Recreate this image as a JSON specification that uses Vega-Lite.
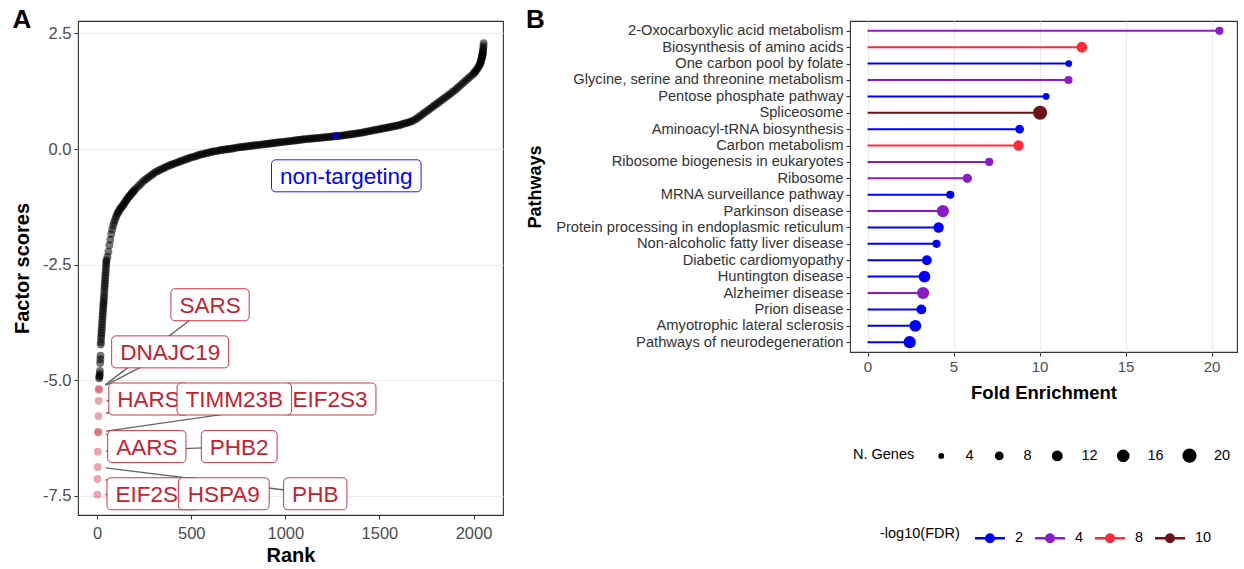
{
  "$schema": "https://vega.github.io/schema/vega-lite/v6.json",
  "background": "white",
  "padding": {"left": 12, "top": 6, "right": 0, "bottom": 0},
  "spacing": 21,
  "resolve": {"legend": {"size": "independent", "color": "independent"}},
  "config": {
    "font": "Liberation Sans",
    "view": {"stroke": "#333333", "strokeWidth": 1.1},
    "axis": {
      "labelFont": "Liberation Sans",
      "titleFont": "Liberation Sans",
      "labelColor": "#4D4D4D",
      "tickColor": "#333333",
      "tickSize": 4,
      "tickWidth": 1.1,
      "domain": false,
      "grid": false,
      "titleColor": "#000000",
      "titleFontWeight": "bold",
      "labelPadding": 3,
      "gridColor": "#EBEBEB",
      "gridWidth": 1.2
    },
    "legend": {"labelFont": "Liberation Sans", "titleFont": "Liberation Sans"},
    "title": {"font": "Liberation Sans"}
  },
  "datasets": {
    "curve": [
      {"rank":11,"score":-4.96},{"rank":12,"score":-4.93},{"rank":13,"score":-4.90},{"rank":14,"score":-4.87},
      {"rank":15,"score":-4.80},{"rank":16,"score":-4.63},{"rank":17,"score":-4.55},{"rank":18,"score":-4.47},
      {"rank":19,"score":-4.23},{"rank":20,"score":-4.18},{"rank":21,"score":-4.10},{"rank":22,"score":-4.04},
      {"rank":23,"score":-3.98},{"rank":24,"score":-3.92},{"rank":25,"score":-3.86},{"rank":26,"score":-3.80},
      {"rank":27,"score":-3.74},{"rank":28,"score":-3.68},{"rank":29,"score":-3.62},{"rank":30,"score":-3.56},
      {"rank":31,"score":-3.50},{"rank":32,"score":-3.44},{"rank":33,"score":-3.39},{"rank":34,"score":-3.34},
      {"rank":35,"score":-3.29},{"rank":36,"score":-3.23},{"rank":37,"score":-3.17},{"rank":38,"score":-3.10},
      {"rank":39,"score":-3.03},{"rank":40,"score":-2.97},{"rank":41,"score":-2.91},{"rank":42,"score":-2.85},
      {"rank":43,"score":-2.79},{"rank":44,"score":-2.73},{"rank":45,"score":-2.67},{"rank":46,"score":-2.61},
      {"rank":47,"score":-2.55},{"rank":48,"score":-2.49},{"rank":49,"score":-2.44},
      {"rank":50,"score":-2.40},{"rank":55,"score":-2.33},{"rank":60,"score":-2.22},{"rank":65,"score":-2.08},
      {"rank":70,"score":-1.96},{"rank":75,"score":-1.84},{"rank":80,"score":-1.74},{"rank":85,"score":-1.66},
      {"rank":90,"score":-1.59},{"rank":95,"score":-1.53},{"rank":100,"score":-1.47},{"rank":105,"score":-1.42},
      {"rank":110,"score":-1.38},{"rank":115,"score":-1.35},{"rank":120,"score":-1.31},{"rank":125,"score":-1.28},
      {"rank":130,"score":-1.26},{"rank":135,"score":-1.23},{"rank":140,"score":-1.20},{"rank":145,"score":-1.17},
      {"rank":150,"score":-1.14},{"rank":155,"score":-1.11},{"rank":160,"score":-1.08},{"rank":165,"score":-1.05},
      {"rank":170,"score":-1.03},{"rank":175,"score":-1.00},{"rank":180,"score":-0.98},{"rank":185,"score":-0.95},
      {"rank":190,"score":-0.93},{"rank":195,"score":-0.91},{"rank":200,"score":-0.88},{"rank":210,"score":-0.84},
      {"rank":220,"score":-0.80},{"rank":230,"score":-0.76},{"rank":240,"score":-0.72},{"rank":250,"score":-0.68},
      {"rank":260,"score":-0.65},{"rank":270,"score":-0.62},{"rank":280,"score":-0.59},{"rank":290,"score":-0.56},
      {"rank":300,"score":-0.53},{"rank":310,"score":-0.50},{"rank":320,"score":-0.48},{"rank":330,"score":-0.46},
      {"rank":340,"score":-0.44},{"rank":350,"score":-0.42},{"rank":360,"score":-0.40},{"rank":370,"score":-0.38},
      {"rank":380,"score":-0.36},{"rank":390,"score":-0.345},{"rank":400,"score":-0.33},{"rank":410,"score":-0.315},
      {"rank":420,"score":-0.30},{"rank":430,"score":-0.285},{"rank":440,"score":-0.27},{"rank":450,"score":-0.255},
      {"rank":460,"score":-0.24},{"rank":470,"score":-0.225},{"rank":480,"score":-0.21},{"rank":490,"score":-0.195},
      {"rank":500,"score":-0.18},{"rank":510,"score":-0.17},{"rank":520,"score":-0.16},{"rank":530,"score":-0.145},
      {"rank":540,"score":-0.13},{"rank":550,"score":-0.12},{"rank":560,"score":-0.11},{"rank":570,"score":-0.10},
      {"rank":580,"score":-0.09},{"rank":590,"score":-0.08},{"rank":600,"score":-0.07},{"rank":610,"score":-0.06},
      {"rank":620,"score":-0.05},{"rank":630,"score":-0.045},{"rank":640,"score":-0.04},{"rank":650,"score":-0.03},
      {"rank":660,"score":-0.02},{"rank":670,"score":-0.015},{"rank":680,"score":-0.01},{"rank":690,"score":-0.005},
      {"rank":700,"score":0.0},{"rank":710,"score":0.005},{"rank":720,"score":0.01},{"rank":730,"score":0.02},
      {"rank":740,"score":0.03},{"rank":750,"score":0.035},{"rank":760,"score":0.04},{"rank":770,"score":0.045},
      {"rank":780,"score":0.05},{"rank":790,"score":0.055},{"rank":800,"score":0.06},{"rank":810,"score":0.065},
      {"rank":820,"score":0.07},{"rank":830,"score":0.075},{"rank":840,"score":0.08},{"rank":850,"score":0.085},
      {"rank":860,"score":0.09},{"rank":870,"score":0.095},{"rank":880,"score":0.10},{"rank":890,"score":0.105},
      {"rank":900,"score":0.11},{"rank":910,"score":0.115},{"rank":920,"score":0.12},{"rank":930,"score":0.125},
      {"rank":940,"score":0.13},{"rank":950,"score":0.135},{"rank":960,"score":0.14},{"rank":970,"score":0.145},
      {"rank":980,"score":0.15},{"rank":990,"score":0.155},{"rank":1000,"score":0.16},{"rank":1010,"score":0.165},
      {"rank":1020,"score":0.17},{"rank":1030,"score":0.175},{"rank":1040,"score":0.18},{"rank":1050,"score":0.185},
      {"rank":1060,"score":0.19},{"rank":1070,"score":0.195},{"rank":1080,"score":0.20},{"rank":1090,"score":0.205},
      {"rank":1100,"score":0.21},{"rank":1110,"score":0.214},{"rank":1120,"score":0.218},{"rank":1130,"score":0.222},
      {"rank":1140,"score":0.226},{"rank":1150,"score":0.23},{"rank":1160,"score":0.234},{"rank":1170,"score":0.238},
      {"rank":1180,"score":0.242},{"rank":1190,"score":0.246},{"rank":1200,"score":0.25},{"rank":1210,"score":0.254},
      {"rank":1220,"score":0.258},{"rank":1230,"score":0.262},{"rank":1240,"score":0.266},{"rank":1250,"score":0.27},
      {"rank":1260,"score":0.274},{"rank":1270,"score":0.278},{"rank":1280,"score":0.282},{"rank":1290,"score":0.286},
      {"rank":1300,"score":0.29},{"rank":1310,"score":0.296},{"rank":1320,"score":0.302},{"rank":1330,"score":0.308},
      {"rank":1340,"score":0.314},{"rank":1350,"score":0.32},{"rank":1360,"score":0.326},{"rank":1370,"score":0.332},
      {"rank":1380,"score":0.338},{"rank":1390,"score":0.344},{"rank":1400,"score":0.35},{"rank":1410,"score":0.358},
      {"rank":1420,"score":0.366},{"rank":1430,"score":0.374},{"rank":1440,"score":0.382},{"rank":1450,"score":0.39},
      {"rank":1460,"score":0.398},{"rank":1470,"score":0.406},{"rank":1480,"score":0.414},{"rank":1490,"score":0.422},
      {"rank":1500,"score":0.43},{"rank":1510,"score":0.438},{"rank":1520,"score":0.446},{"rank":1530,"score":0.454},
      {"rank":1540,"score":0.462},{"rank":1550,"score":0.47},{"rank":1560,"score":0.478},{"rank":1570,"score":0.486},
      {"rank":1580,"score":0.494},{"rank":1590,"score":0.502},{"rank":1600,"score":0.51},{"rank":1610,"score":0.522},
      {"rank":1620,"score":0.535},{"rank":1630,"score":0.548},{"rank":1640,"score":0.56},{"rank":1650,"score":0.572},
      {"rank":1660,"score":0.585},{"rank":1670,"score":0.598},{"rank":1680,"score":0.615},{"rank":1690,"score":0.64},
      {"rank":1700,"score":0.665},{"rank":1710,"score":0.695},{"rank":1720,"score":0.725},{"rank":1730,"score":0.755},
      {"rank":1740,"score":0.785},{"rank":1750,"score":0.815},{"rank":1760,"score":0.845},{"rank":1770,"score":0.875},
      {"rank":1780,"score":0.905},{"rank":1790,"score":0.935},{"rank":1800,"score":0.965},{"rank":1810,"score":0.995},
      {"rank":1820,"score":1.025},{"rank":1830,"score":1.055},{"rank":1840,"score":1.085},{"rank":1850,"score":1.115},
      {"rank":1860,"score":1.145},{"rank":1870,"score":1.175},{"rank":1880,"score":1.205},{"rank":1890,"score":1.238},
      {"rank":1900,"score":1.27},{"rank":1910,"score":1.306},{"rank":1920,"score":1.342},{"rank":1930,"score":1.378},
      {"rank":1940,"score":1.414},{"rank":1950,"score":1.45},{"rank":1960,"score":1.486},{"rank":1970,"score":1.522},
      {"rank":1980,"score":1.558},{"rank":1990,"score":1.594},{"rank":2000,"score":1.63},{"rank":2005,"score":1.655},
      {"rank":2010,"score":1.68},{"rank":2015,"score":1.707},{"rank":2020,"score":1.735},{"rank":2025,"score":1.767},
      {"rank":2030,"score":1.80},{"rank":2033,"score":1.827},{"rank":2036,"score":1.855},{"rank":2038,"score":1.882},
      {"rank":2040,"score":1.91},{"rank":2042,"score":1.94},{"rank":2043,"score":1.96},{"rank":2045,"score":1.99},
      {"rank":2046,"score":2.01},{"rank":2047,"score":2.03},{"rank":2048,"score":2.05},{"rank":2049,"score":2.075},
      {"rank":2050,"score":2.10},{"rank":2051,"score":2.14},{"rank":2052,"score":2.18},{"rank":2053,"score":2.23},
      {"rank":2054,"score":2.29}
    ],
    "hits": [
      {"gene":"EIF2S1","rank":1,"score":-7.48,"lx":297,"ly":-7.46},
      {"gene":"HSPA9","rank":2,"score":-7.14,"lx":673,"ly":-7.46},
      {"gene":"PHB","rank":3,"score":-6.88,"lx":1159,"ly":-7.46},
      {"gene":"PHB2","rank":4,"score":-6.55,"lx":755,"ly":-6.44},
      {"gene":"EIF2S3","rank":5,"score":-6.13,"lx":1237,"ly":-5.41},
      {"gene":"AARS","rank":6,"score":-6.12,"lx":264,"ly":-6.44},
      {"gene":"HARS","rank":7,"score":-5.78,"lx":273,"ly":-5.41},
      {"gene":"TIMM23B","rank":8,"score":-5.45,"lx":729,"ly":-5.41},
      {"gene":"SARS","rank":9,"score":-5.21,"lx":600,"ly":-3.37},
      {"gene":"DNAJC19","rank":10,"score":-5.19,"lx":388,"ly":-4.39}
    ],
    "control": [
      {"gene":"non-targeting","rank":1268,"score":0.284,"lx":1324,"ly":-0.58}
    ],
    "pathways": [
      {"pathway":"2-Oxocarboxylic acid metabolism","fold":20.46,"genes":7,"fdr":4},
      {"pathway":"Biosynthesis of amino acids","fold":12.46,"genes":12,"fdr":8},
      {"pathway":"One carbon pool by folate","fold":11.70,"genes":5,"fdr":2},
      {"pathway":"Glycine, serine and threonine metabolism","fold":11.68,"genes":7,"fdr":4},
      {"pathway":"Pentose phosphate pathway","fold":10.38,"genes":5,"fdr":2},
      {"pathway":"Spliceosome","fold":10.03,"genes":20,"fdr":10},
      {"pathway":"Aminoacyl-tRNA biosynthesis","fold":8.84,"genes":8,"fdr":2},
      {"pathway":"Carbon metabolism","fold":8.78,"genes":11,"fdr":8},
      {"pathway":"Ribosome biogenesis in eukaryotes","fold":7.07,"genes":7,"fdr":4},
      {"pathway":"Ribosome","fold":5.80,"genes":9,"fdr":4},
      {"pathway":"MRNA surveillance pathway","fold":4.81,"genes":7,"fdr":2},
      {"pathway":"Parkinson disease","fold":4.38,"genes":15,"fdr":4},
      {"pathway":"Protein processing in endoplasmic reticulum","fold":4.13,"genes":11,"fdr":2},
      {"pathway":"Non-alcoholic fatty liver disease","fold":4.01,"genes":7,"fdr":2},
      {"pathway":"Diabetic cardiomyopathy","fold":3.45,"genes":10,"fdr":2},
      {"pathway":"Huntington disease","fold":3.31,"genes":14,"fdr":2},
      {"pathway":"Alzheimer disease","fold":3.23,"genes":15,"fdr":4},
      {"pathway":"Prion disease","fold":3.13,"genes":10,"fdr":2},
      {"pathway":"Amyotrophic lateral sclerosis","fold":2.78,"genes":14,"fdr":2},
      {"pathway":"Pathways of neurodegeneration","fold":2.45,"genes":15,"fdr":2}
    ]
  },
  "hconcat": [
    {
      "width": 425,
      "height": 494,
      "title": {"text": "A", "anchor": "start", "frame": "bounds", "fontSize": 26, "fontWeight": "bold", "color": "#000000", "offset": -25, "baseline": "alphabetic", "dy": 8},
      "layer": [
        {
          "data": {"name": "curve"},
          "mark": {"type": "circle", "size": 62, "color": "#000000", "opacity": 0.55},
          "encoding": {
            "x": {"field": "rank", "type": "quantitative", "title": "Rank",
              "scale": {"domain": [-101.7, 2156.7], "nice": false, "zero": false},
              "axis": {"values": [0, 500, 1000, 1500, 2000], "format": "d", "titleFontSize": 20, "labelFontSize": 16.5, "labelPadding": 6, "titlePadding": 4, "labelFlush": false}},
            "y": {"field": "score", "type": "quantitative", "title": "Factor scores",
              "scale": {"domain": [-7.92, 2.77], "nice": false, "zero": false},
              "axis": {"values": [-7.5, -5, -2.5, 0, 2.5], "labelExpr": "replace(format(datum.value, '.1f'), '−', '-')", "grid": true, "titleFontSize": 20, "labelFontSize": 16.5, "titlePadding": 10, "labelFlush": false}}
          }
        },
        {
          "data": {"name": "hits"},
          "transform": [
            {"calculate": "length(datum.gene)", "as": "n"},
            {"calculate": "0.667*datum.n + 0.055*(datum.n - length(replace(datum.gene, regexp('[CDHNR]','g'), ''))) + 0.166*(datum.n - length(replace(datum.gene, regexp('M','g'), ''))) - 0.111*(datum.n - length(replace(datum.gene, regexp('[0-9]','g'), ''))) - 0.056*(datum.n - length(replace(datum.gene, regexp('[FT]','g'), ''))) - 0.389*(datum.n - length(replace(datum.gene, regexp('I','g'), ''))) - 0.167*(datum.n - length(replace(datum.gene, regexp('J','g'), '')))", "as": "em"},
            {"calculate": "(datum.em*22.5 + 17)/2/0.18819", "as": "hw"},
            {"calculate": "datum.lx - datum.hw", "as": "bx0"},
            {"calculate": "datum.lx + datum.hw", "as": "bx1"},
            {"calculate": "datum.ly - 0.3462", "as": "by0"},
            {"calculate": "datum.ly + 0.3462", "as": "by1"},
            {"calculate": "sqrt(pow((datum.lx - datum.rank)*0.18819, 2) + pow((datum.ly - datum.score)*46.21, 2))", "as": "len"},
            {"calculate": "datum.rank + (datum.lx - datum.rank)*8/datum.len", "as": "sx"},
            {"calculate": "datum.score + (datum.ly - datum.score)*8/datum.len", "as": "sy"}
          ],
          "layer": [
            {
              "mark": {"type": "rule", "color": "#666666", "strokeWidth": 1.4},
              "encoding": {
                "x": {"field": "sx", "type": "quantitative", "title": "Rank", "scale": {"domain": [-101.7, 2156.7], "nice": false, "zero": false}},
                "y": {"field": "sy", "type": "quantitative", "title": "Factor scores", "scale": {"domain": [-7.92, 2.77], "nice": false, "zero": false}},
                "x2": {"field": "lx"},
                "y2": {"field": "ly"}
              }
            },
            {
              "mark": {"type": "circle", "size": 62, "color": "#D42A3C", "opacity": 0.42},
              "encoding": {
                "x": {"field": "rank", "type": "quantitative", "title": "Rank", "scale": {"domain": [-101.7, 2156.7], "nice": false, "zero": false}},
                "y": {"field": "score", "type": "quantitative", "title": "Factor scores", "scale": {"domain": [-7.92, 2.77], "nice": false, "zero": false}}
              }
            },
            {
              "transform": [{"filter": "datum.gene != 'TIMM23B' && datum.gene != 'HSPA9'"}],
              "layer": [
                {
                  "mark": {"type": "rect", "fill": "white", "stroke": "#C8202F", "strokeWidth": 0.9, "cornerRadius": 4},
                  "encoding": {
                    "x": {"field": "bx0", "type": "quantitative", "title": "Rank", "scale": {"domain": [-101.7, 2156.7], "nice": false, "zero": false}},
                    "x2": {"field": "bx1"},
                    "y": {"field": "by0", "type": "quantitative", "title": "Factor scores", "scale": {"domain": [-7.92, 2.77], "nice": false, "zero": false}},
                    "y2": {"field": "by1"}
                  }
                },
                {
                  "mark": {"type": "text", "color": "#C8202F", "fontSize": 22.5, "baseline": "middle", "align": "center", "dy": 1},
                  "encoding": {
                    "x": {"field": "lx", "type": "quantitative", "title": "Rank", "scale": {"domain": [-101.7, 2156.7], "nice": false, "zero": false}},
                    "y": {"field": "ly", "type": "quantitative", "title": "Factor scores", "scale": {"domain": [-7.92, 2.77], "nice": false, "zero": false}},
                    "text": {"field": "gene"}
                  }
                }
              ]
            },
            {
              "transform": [{"filter": "datum.gene == 'TIMM23B' || datum.gene == 'HSPA9'"}],
              "layer": [
                {
                  "mark": {"type": "rect", "fill": "white", "stroke": "#C8202F", "strokeWidth": 0.9, "cornerRadius": 4},
                  "encoding": {
                    "x": {"field": "bx0", "type": "quantitative", "title": "Rank", "scale": {"domain": [-101.7, 2156.7], "nice": false, "zero": false}},
                    "x2": {"field": "bx1"},
                    "y": {"field": "by0", "type": "quantitative", "title": "Factor scores", "scale": {"domain": [-7.92, 2.77], "nice": false, "zero": false}},
                    "y2": {"field": "by1"}
                  }
                },
                {
                  "mark": {"type": "text", "color": "#C8202F", "fontSize": 22.5, "baseline": "middle", "align": "center", "dy": 1},
                  "encoding": {
                    "x": {"field": "lx", "type": "quantitative", "title": "Rank", "scale": {"domain": [-101.7, 2156.7], "nice": false, "zero": false}},
                    "y": {"field": "ly", "type": "quantitative", "title": "Factor scores", "scale": {"domain": [-7.92, 2.77], "nice": false, "zero": false}},
                    "text": {"field": "gene"}
                  }
                }
              ]
            }
          ]
        },
        {
          "data": {"name": "control"},
          "transform": [
            {"calculate": "(5.892*22.5 + 17)/2/0.18819", "as": "hw"},
            {"calculate": "datum.lx - datum.hw", "as": "bx0"},
            {"calculate": "datum.lx + datum.hw", "as": "bx1"},
            {"calculate": "datum.ly - 0.3462", "as": "by0"},
            {"calculate": "datum.ly + 0.3462", "as": "by1"}
          ],
          "layer": [
            {
              "mark": {"type": "circle", "size": 62, "color": "#0000FF", "opacity": 0.6},
              "encoding": {
                "x": {"field": "rank", "type": "quantitative", "title": "Rank", "scale": {"domain": [-101.7, 2156.7], "nice": false, "zero": false}},
                "y": {"field": "score", "type": "quantitative", "title": "Factor scores", "scale": {"domain": [-7.92, 2.77], "nice": false, "zero": false}}
              }
            },
            {
              "mark": {"type": "rect", "fill": "white", "stroke": "#0000FF", "strokeWidth": 0.9, "cornerRadius": 4},
              "encoding": {
                "x": {"field": "bx0", "type": "quantitative", "title": "Rank", "scale": {"domain": [-101.7, 2156.7], "nice": false, "zero": false}},
                "x2": {"field": "bx1"},
                "y": {"field": "by0", "type": "quantitative", "title": "Factor scores", "scale": {"domain": [-7.92, 2.77], "nice": false, "zero": false}},
                "y2": {"field": "by1"}
              }
            },
            {
              "mark": {"type": "text", "color": "#0000FF", "fontSize": 22.5, "baseline": "middle", "align": "center", "dy": 1},
              "encoding": {
                "x": {"field": "lx", "type": "quantitative", "title": "Rank", "scale": {"domain": [-101.7, 2156.7], "nice": false, "zero": false}},
                "y": {"field": "ly", "type": "quantitative", "title": "Factor scores", "scale": {"domain": [-7.92, 2.77], "nice": false, "zero": false}},
                "text": {"field": "gene"}
              }
            }
          ]
        }
      ]
    },
    {
      "width": 387,
      "height": 331,
      "title": {"text": "B", "anchor": "start", "frame": "bounds", "fontSize": 26, "fontWeight": "bold", "color": "#000000", "offset": -25, "baseline": "alphabetic", "dy": 8},
      "data": {"name": "pathways"},
      "layer": [
        {
          "mark": {"type": "rule", "strokeWidth": 2},
          "encoding": {
            "y": {"field": "pathway", "type": "nominal", "sort": null, "title": "Pathways",
              "scale": {"type": "point", "padding": 0.6},
              "axis": {"labelFontSize": 14.7, "labelColor": "#333333", "labelLimit": 500, "titleFontSize": 18, "titleX": -306, "tickSize": 4}},
            "x": {"field": "fold", "type": "quantitative", "title": "Fold Enrichment",
              "scale": {"domain": [-1.02, 21.48], "nice": false, "zero": false},
              "axis": {"values": [0, 5, 10, 15, 20], "grid": true, "labelFontSize": 15, "titleFontSize": 18.5, "titlePadding": 9, "labelFlush": false}},
            "x2": {"datum": 0},
            "color": {"field": "fdr", "type": "quantitative",
              "scale": {"type": "linear", "domain": [2, 4, 8, 10], "range": ["#0000FF", "#8B1BC9", "#FF2B3B", "#6E1418"]},
              "legend": {"title": "-log10(FDR)", "type": "symbol", "orient": "none", "legendX": 30, "legendY": 502, "direction": "horizontal", "titleOrient": "left", "values": [2, 4, 8, 10],
                "symbolType": "M-1,-0.08H1V0.08H-1Z M-0.33,0A0.33,0.33 0 1,1 0.33,0A0.33,0.33 0 1,1 -0.33,0Z", "symbolSize": 900, "symbolStrokeWidth": 0, "symbolOpacity": 1,
                "labelFontSize": 14.5, "labelColor": "#000000", "titleFontSize": 14.5, "titleFontWeight": "normal", "titleColor": "#000000", "labelOffset": 10, "columnPadding": 11, "titlePadding": 15}}
          }
        },
        {
          "mark": {"type": "circle", "opacity": 1},
          "encoding": {
            "y": {"field": "pathway", "type": "nominal", "sort": null, "title": "Pathways", "scale": {"type": "point", "padding": 0.6}},
            "x": {"field": "fold", "type": "quantitative", "title": "Fold Enrichment", "scale": {"domain": [-1.02, 21.48], "nice": false, "zero": false}},
            "color": {"field": "fdr", "type": "quantitative",
              "scale": {"type": "linear", "domain": [2, 4, 8, 10], "range": ["#0000FF", "#8B1BC9", "#FF2B3B", "#6E1418"]},
              "legend": {"title": "-log10(FDR)", "type": "symbol", "orient": "none", "legendX": 30, "legendY": 502, "direction": "horizontal", "titleOrient": "left", "values": [2, 4, 8, 10],
                "symbolType": "M-1,-0.08H1V0.08H-1Z M-0.33,0A0.33,0.33 0 1,1 0.33,0A0.33,0.33 0 1,1 -0.33,0Z", "symbolSize": 900, "symbolStrokeWidth": 0, "symbolOpacity": 1,
                "labelFontSize": 14.5, "labelColor": "#000000", "titleFontSize": 14.5, "titleFontWeight": "normal", "titleColor": "#000000", "labelOffset": 10, "columnPadding": 11, "titlePadding": 15}},
            "size": {"field": "genes", "type": "quantitative",
              "scale": {"domain": [4, 20], "range": [35, 201], "zero": false},
              "legend": {"title": "N. Genes", "orient": "none", "legendX": 3, "legendY": 427, "direction": "horizontal", "titleOrient": "left", "values": [4, 8, 12, 16, 20],
                "symbolFillColor": "#000000", "symbolStrokeWidth": 0, "symbolOpacity": 1,
                "labelFontSize": 14.5, "labelColor": "#000000", "titleFontSize": 14.5, "titleFontWeight": "normal", "titleColor": "#000000", "labelOffset": 17, "columnPadding": 18, "titlePadding": 19}}
          }
        }
      ]
    }
  ]
}
